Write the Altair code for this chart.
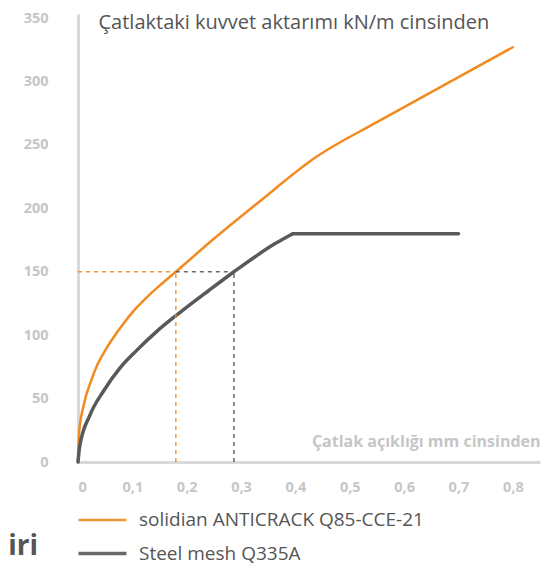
import altair as alt
import pandas as pd

# ---- data ----
series_names = ["solidian ANTICRACK Q85-CCE-21", "Steel mesh Q335A"]
series_colors = ["#F28A20", "#595959"]
series_widths = [2.5, 3.5]

crack_orange = [0, 0.002, 0.01, 0.025, 0.035, 0.05, 0.065, 0.08, 0.1, 0.12, 0.15, 0.18, 0.25, 0.33, 0.44, 0.55, 0.66, 0.8]
force_orange = [0, 23, 44, 65, 76, 88, 98, 107, 118, 127, 139, 150, 176, 204, 241, 268, 294, 327]
segment_orange = ["o"] * len(crack_orange)

crack_steel = [0, 0.003, 0.022, 0.047, 0.077, 0.108, 0.145, 0.188, 0.24, 0.287, 0.362, 0.395, 0.395, 0.7]
force_steel = [0, 12, 37, 56, 74, 88, 103, 118, 135, 150, 172, 180, 180, 180]
segment_steel = ["s1"] * 12 + ["s2"] * 2

# reference (dashed) lines at 150 kN/m
ref_x = [0, 0.18, 0.18, 0.287]
ref_x2 = [0.18, 0.18, 0.287, 0.287]
ref_y = [150, 0, 150, 0]
ref_y2 = [150, 150, 150, 150]
ref_series = [series_names[0], series_names[0], series_names[1], series_names[1]]

x_ticks = [0, 0.1, 0.2, 0.3, 0.4, 0.5, 0.6, 0.7, 0.8]
y_ticks = [0, 50, 100, 150, 200, 250, 300, 350]

y_title = "Çatlaktaki kuvvet aktarımı kN/m cinsinden"
x_title = "Çatlak açıklığı mm cinsinden"
side_text = ["miri"]

# ---- tables ----
df = pd.concat([
    pd.DataFrame({"crack": crack_orange, "force": force_orange,
                  "series": series_names[0], "segment": segment_orange}),
    pd.DataFrame({"crack": crack_steel, "force": force_steel,
                  "series": series_names[1], "segment": segment_steel}),
], ignore_index=True)

ref_df = pd.DataFrame({"x": ref_x, "x2": ref_x2, "y": ref_y, "y2": ref_y2, "series": ref_series})
side_df = pd.DataFrame({"label": side_text})

W, H = 462, 448
x_scale = alt.Scale(domain=[0, 0.85], nice=False)
y_scale = alt.Scale(domain=[0, 353.2], nice=False)
color_scale = alt.Scale(domain=series_names, range=series_colors)

axis_common = dict(
    grid=False, ticks=False, domainColor="#d9d9d9", domainWidth=3,
    labelColor="#c6c6c6", labelFont="Open Sans", labelFontWeight="bold", labelFontSize=14.5,
)

lines = alt.Chart(df).mark_line(interpolate="monotone", strokeCap="round", strokeJoin="round").encode(
    x=alt.X("crack:Q", scale=x_scale, axis=alt.Axis(
        values=x_ticks,
        labelExpr="datum.value == 0 ? '0' : replace(format(datum.value, '.1f'), '.', ',')",
        labelPadding=18,
        title=x_title, titleFont="Open Sans", titleFontWeight="bold", titleFontSize=16,
        titleColor="#c6c6c6", titleAngle=0, titleAlign="right", titleBaseline="alphabetic",
        titleX=W, titleY=-16,
        **axis_common)),
    y=alt.Y("force:Q", scale=y_scale, axis=alt.Axis(
        values=y_ticks, labelPadding=30,
        title=y_title, titleFont="Open Sans", titleFontWeight="normal", titleFontSize=20,
        titleColor="#555555", titleAngle=0, titleAlign="left", titleBaseline="alphabetic",
        titleX=20, titleY=14,
        **axis_common)),
    color=alt.Color("series:N", scale=color_scale, legend=alt.Legend(
        title=None, orient="none", legendX=10.5, legendY=492.5,
        symbolType="M-2,0L2,0", symbolSize=576, symbolStrokeWidth=3,
        labelFont="Open Sans", labelFontSize=19, labelColor="#555555",
        labelOffset=22.5, rowPadding=9, padding=0, labelLimit=0)),
    strokeWidth=alt.StrokeWidth("series:N", scale=alt.Scale(domain=series_names, range=series_widths), legend=None),
    detail="segment:N",
)

rules = alt.Chart(ref_df).mark_rule(strokeDash=[4, 4], strokeWidth=1.5, opacity=0.9).encode(
    x=alt.X("x:Q", scale=x_scale),
    x2="x2:Q",
    y=alt.Y("y:Q", scale=y_scale),
    y2="y2:Q",
    color=alt.Color("series:N", scale=color_scale),
)

side = alt.Chart(side_df).mark_text(
    font="Open Sans", fontWeight="bold", fontSize=28, color="#555555",
    align="right", baseline="alphabetic",
).encode(text="label:N", x=alt.value(-40), y=alt.value(541))

chart = alt.layer(lines, rules, side).properties(
    width=W, height=H,
    autosize=alt.AutoSizeParams(type="none"),
    padding={"left": 70, "top": 6, "right": 2, "bottom": 106},
).configure(font="Open Sans").configure_view(stroke=None)

chart.save("out.html", embed_options={"renderer": "svg", "actions": False})
